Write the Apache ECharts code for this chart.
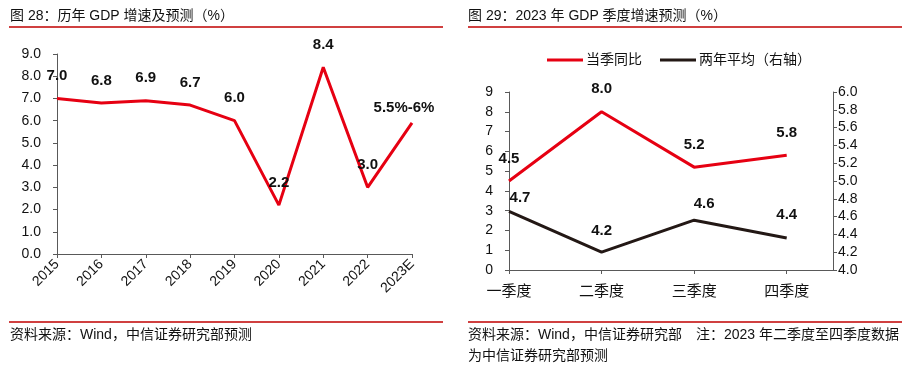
<!DOCTYPE html>
<html><head><meta charset="utf-8">
<script src="https://cdn.jsdelivr.net/npm/echarts@6/dist/echarts.min.js"></script>
<style>html,body{margin:0;padding:0;background:#fff}#c{width:917px;height:377px}</style>
</head><body><div id="c"></div>
<script>
// ---- data ----
var years = ['2015','2016','2017','2018','2019','2020','2021','2022','2023E'];
var gdpGrowth = [7.0, 6.8, 6.9, 6.7, 6.0, 2.2, 8.4, 3.0, 5.9];
var gdpLabels = ['7.0','6.8','6.9','6.7','6.0','2.2','8.4','3.0','5.5%-6%'];
var quarters = ['一季度','二季度','三季度','四季度'];
var yoy = [4.5, 8.0, 5.2, 5.8];
var twoYearAvg = [4.66, 4.2, 4.56, 4.36];

// ---- styles ----
var FONT = '"Liberation Sans","Noto Sans CJK SC",Arial,sans-serif';
var RED = '#e60012', BLACK = '#231815', AX = '#595959';
var gdpLabelOffsets = [[0,0],[0,0],[0,0],[0,0],[0,0],[0,0],[0,0],[0,0],[-8,7]];
var avgLabelOffsets = [[11,9],[0,1],[10,6],[0,-1]];

var chart = echarts.init(document.getElementById('c'), null, {renderer:'canvas'});
var labelBase = {show:true, position:'top', distance:15, fontFamily:FONT, fontSize:15, fontWeight:'bold', color:'#111'};
var axisLbl = {fontFamily:FONT, fontSize:14, color:'#111'};
var axLine = {show:true, lineStyle:{color:AX, width:1}};
var axTick = {show:true, length:4, lineStyle:{color:AX}};

function txt(x,y,t,size){return {type:'text', left:x, top:y, style:{text:t, font:(size||14)+'px '+FONT, fill:'#111'}};}
function hl(x1,x2,y){return {type:'line', shape:{x1:x1,y1:y,x2:x2,y2:y}, style:{stroke:'#c00000', lineWidth:1.5}};}

chart.setOption({
  animation:false,
  textStyle:{fontFamily:FONT},
  graphic:[
    txt(10,9,'图 28：历年 GDP 增速及预测（%）'),
    hl(9,443,27),
    txt(468,9,'图 29：2023 年 GDP 季度增速预测（%）'),
    hl(468,902,27),
    hl(9,443,322),
    hl(468,902,322),
    txt(10,328,'资料来源：Wind，中信证券研究部预测'),
    txt(468,328,'资料来源：Wind，中信证券研究部　注：2023 年二季度至四季度数据'),
    txt(468,349,'为中信证券研究部预测')
  ],
  legend:{
    left:542, top:48, itemWidth:36, itemHeight:3, itemGap:18, icon:'rect',
    textStyle:{fontFamily:FONT, fontSize:14, color:'#111', padding:[0,0,0,-2]},
    data:['当季同比','两年平均（右轴）']
  },
  grid:[
    {left:57, right:505, top:54, bottom:123},
    {left:509, right:84, top:92, bottom:107}
  ],
  xAxis:[
    {gridIndex:0, type:'category', data:years, boundaryGap:false,
     axisLine:axLine, axisTick:{show:true, length:4, lineStyle:{color:AX}},
     axisLabel:Object.assign({}, axisLbl, {rotate:45, margin:8, interval:0}), splitLine:{show:false}},
    {gridIndex:1, type:'value', min:0, max:3.5, interval:1,
     axisLine:axLine, axisTick:axTick, splitLine:{show:false},
     axisLabel:Object.assign({}, axisLbl, {margin:14, fontSize:15, showMaxLabel:false,
       formatter:function(v){return Number.isInteger(v) && quarters[v] !== undefined ? quarters[v] : '';}})}
  ],
  yAxis:[
    {gridIndex:0, type:'value', min:0, max:9, interval:1, axisLine:axLine, axisTick:axTick,
     splitLine:{show:false}, axisLabel:Object.assign({}, axisLbl, {margin:16, formatter:function(v){return v.toFixed(1);}})},
    {gridIndex:1, type:'value', min:0, max:9, interval:1, axisLine:axLine, axisTick:axTick,
     splitLine:{show:false}, axisLabel:Object.assign({}, axisLbl, {margin:16})},
    {gridIndex:1, type:'value', position:'right', min:4, max:6, interval:0.2, axisLine:axLine, axisTick:axTick,
     splitLine:{show:false}, axisLabel:Object.assign({}, axisLbl, {margin:5, formatter:function(v){return v.toFixed(1);}})}
  ],
  series:[
    {type:'line', xAxisIndex:0, yAxisIndex:0, symbol:'circle', symbolSize:0, showSymbol:true,
     lineStyle:{color:RED, width:3}, itemStyle:{color:RED},
     data:gdpGrowth.map(function(v,i){return {value:v, label:{offset:gdpLabelOffsets[i]}};}),
     label:Object.assign({}, labelBase, {formatter:function(p){return gdpLabels[p.dataIndex];}})},
    {name:'当季同比', type:'line', xAxisIndex:1, yAxisIndex:1, symbol:'circle', symbolSize:0, showSymbol:true,
     lineStyle:{color:RED, width:3}, itemStyle:{color:RED},
     data:yoy.map(function(v,i){return [i,v];}),
     label:Object.assign({}, labelBase, {formatter:function(p){return p.value[1].toFixed(1);}})},
    {name:'两年平均（右轴）', type:'line', xAxisIndex:1, yAxisIndex:2, symbol:'circle', symbolSize:0, showSymbol:true,
     lineStyle:{color:BLACK, width:3}, itemStyle:{color:BLACK},
     data:twoYearAvg.map(function(v,i){return {value:[i,v], label:{offset:avgLabelOffsets[i]}};}),
     label:Object.assign({}, labelBase, {formatter:function(p){return p.value[1].toFixed(1);}})}
  ]
});
</script></body></html>
